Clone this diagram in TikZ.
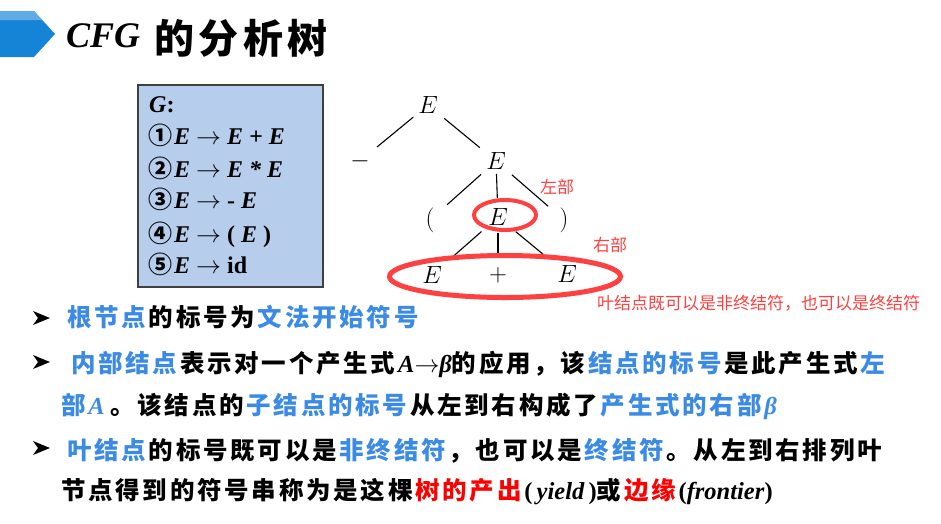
\documentclass[tikz,border=0pt]{standalone}
\usepackage{fontspec}
\setmainfont{Liberation Serif}
\newfontfamily\cjk{Noto Sans CJK SC}
\newcommand\mylat[1]{{\rmfamily\itshape #1}}
\newdimen\cjkgap \cjkgap=0pt
\newcommand\setcjkgap[1]{\cjkgap=#1\relax}
\count255="4E00
\loop \XeTeXcharclass\count255=1 \advance\count255 by 1 \ifnum\count255<"A000 \repeat
\XeTeXcharclass"FF0C=3 \XeTeXcharclass"3002=3
\XeTeXinterchartokenstate=1
\XeTeXinterchartoks 1 1 = {\hskip\cjkgap}
\XeTeXinterchartoks 1 3 = {\hskip\cjkgap}
\XeTeXinterchartoks 3 1 = {\hskip\cjkgap}
\XeTeXinterchartoks 1 4095 = {\hskip\cjkgap}
\definecolor{tblue}{RGB}{58,138,230}
\definecolor{ared}{RGB}{255,64,64}
\definecolor{boxblue}{RGB}{182,205,236}
\definecolor{titleblue}{RGB}{22,132,214}
\definecolor{titlelight}{RGB}{96,170,230}
\tikzset{
  tl/.style={inner sep=0pt, font=\fontsize{23.5}{23.5}\selectfont},
  edge/.style={line width=1.1pt, black},
  gline/.style={anchor=base west, inner sep=0pt, font=\fontsize{24}{24}\selectfont\bfseries\itshape},
  body/.style={anchor=base west, inner sep=0pt, font={\fontsize{24.5}{24.5}\selectfont\cjk\bfseries\setcjkgap{2.75pt}}},
  note/.style={inner sep=0pt, text=ared, font=\fontsize{17}{17}\selectfont\cjk},
  ring/.style={draw=ared, line width=4pt},
  bul/.pic={\fill[black] (0,-7) -- (17,0) -- (0,7) -- (5,0) -- cycle;}
}
\begin{document}
\begin{tikzpicture}[x=1pt,y=-1pt]
\useasboundingbox (0,0) rectangle (941,523);
% title arrow
\fill[titleblue] (0,11) -- (34,11) -- (55,34) -- (34,57) -- (0,57) -- cycle;
\fill[titlelight] (0,11) -- (34,11) -- (42,20) -- (0,20) -- cycle;
\node[anchor=base west, inner sep=0pt, font=\fontsize{36}{36}\selectfont\bfseries\itshape] (cfg) at (66,47) {CFG};
\node[anchor=base west, inner sep=0pt, font={\fontsize{40}{40}\selectfont\cjk\bfseries\setcjkgap{4.5pt}}] (tt) at (154,53) {的分析树};
% grammar box
\node[draw=black!75, line width=1.2pt, fill=boxblue, minimum width=185pt, minimum height=202pt, inner sep=0pt] (box) at (230.5,186) {};
\node[gline] (g0) at (149,112) {G\textup{:}};
\node[gline] (g1) at (148,144) {{\cjk\bfseries ①}\hspace{2pt}E $\rightarrow$ E + E};
\node[gline] (g2) at (148,177) {{\cjk\bfseries ②}\hspace{2pt}E $\rightarrow$ E * E};
\node[gline] (g3) at (148,208) {{\cjk\bfseries ③}\hspace{2pt}E $\rightarrow$ \textup{-} E};
\node[gline] (g4) at (148,242) {{\cjk\bfseries ④}\hspace{2pt}E $\rightarrow$ \textup{(} E \textup{)}};
\node[gline] (g5) at (148,273) {{\cjk\bfseries ⑤}\hspace{2pt}E $\rightarrow$ \textup{id}};
% tree
\node[tl] (e1) at (428,105) {$E$};
\node[tl] (m) at (360,161) {$-$};
\node[tl] (e2) at (496,161) {$E$};
\node[tl] (lp) at (430,220) {$($};
\node[tl] (e3) at (498,217) {$E$};
\node[tl] (rp) at (564,220) {$)$};
\node[tl] (l1) at (432,275) {$E$};
\node[tl] (pl) at (498,275) {$+$};
\node[tl] (r1) at (567,274) {$E$};
\draw[edge, shorten <=19pt, shorten >=22pt] (e1.center) -- (m.center);
\draw[edge, shorten <=21pt, shorten >=21pt] (e1.center) -- (e2.center);
\draw[edge, shorten <=20pt, shorten >=23pt] (e2.center) -- (lp.center);
\draw[edge, shorten <=13pt, shorten >=19pt] (e2.center) -- (e3.center);
\draw[edge, shorten <=21pt, shorten >=21pt] (e2.center) -- (rp.center);
\draw[edge, shorten <=22pt, shorten >=30pt] (e3.center) -- (l1.center);
\draw[edge, shorten <=16pt, shorten >=22pt] (e3.center) -- (pl.center);
\draw[edge, shorten <=23pt, shorten >=31pt] (e3.center) -- (r1.center);
% red rings
\draw[ring] (e3.center) ++(7,-2) ellipse [x radius=31pt, y radius=15pt];
\draw[ring, line width=5pt] (pl.center) ++(7,1.5) ellipse [x radius=115.5pt, y radius=21pt];
\node[note] (zb) at (557,187) {左部};
\node[note] (yb) at (610,245) {右部};
\node[note, anchor=west] (ye) at (597,303) {叶结点既可以是非终结符，也可以是终结符};
% bullets
\pic at (33,318) {bul};
\pic at (33,362) {bul};
\pic at (33,448) {bul};
% body
\node[body] (t1) at (67,326) {{\color{tblue}根节点}的标号为{\color{tblue}文法开始符号}};
\node[body] (t2) at (71,372) {{\color{tblue}内部结点}表示对一个产生式\mylat{A}$\rightarrow$\mylat{β}的应用，该{\color{tblue}结点的标号}是此产生式{\color{tblue}左}};
\node[body] (t3) at (61,414) {{\color{tblue}部\mylat{A}} 。该结点的{\color{tblue}子结点的标号}从左到右构成了{\color{tblue}产生式的右部\mylat{β}}};
\node[body] (t4) at (67,459) {{\color{tblue}叶结点}的标号既可以是{\color{tblue}非终结符}，也可以是{\color{tblue}终结符}。从左到右排列叶};
\node[body] (t5) at (61,499) {节点得到的符号串称为是这棵{\color{red}树的产出}{\rmfamily(\,\textit{yield}\,)}或{\color{red}边缘}{\rmfamily(\textit{frontier})}};
\end{tikzpicture}
\end{document}
